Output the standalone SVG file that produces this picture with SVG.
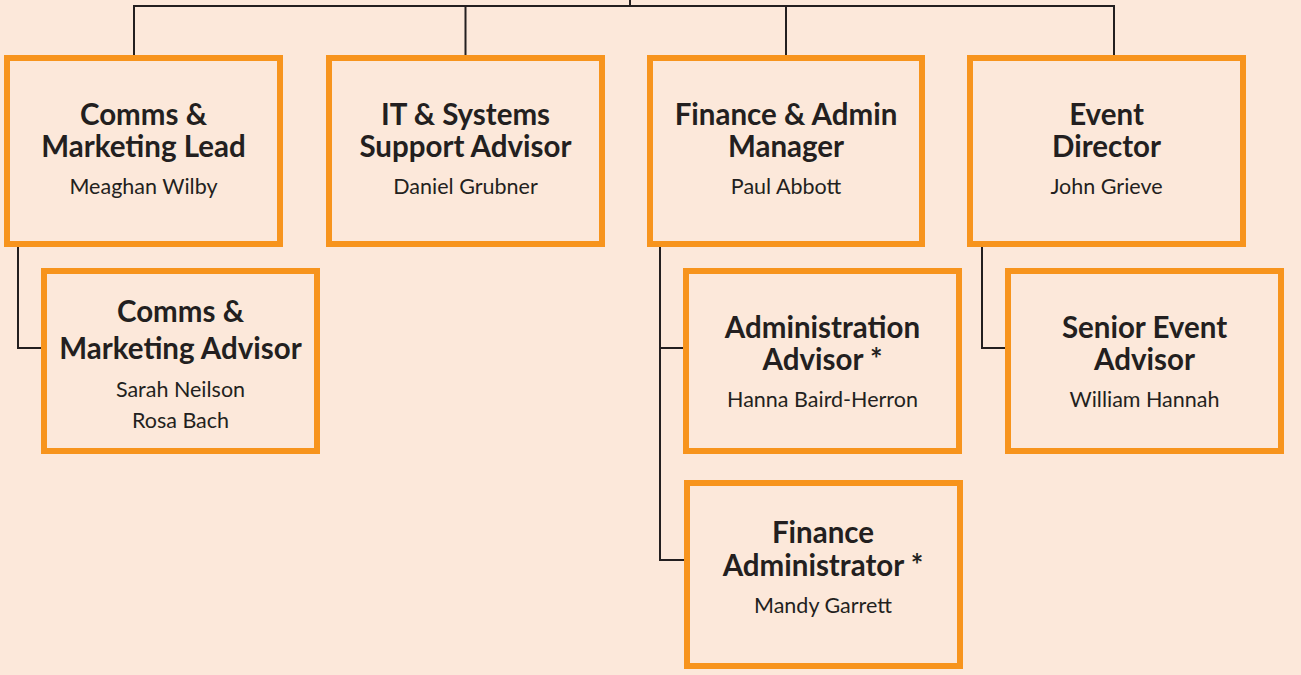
<svg xmlns="http://www.w3.org/2000/svg" width="1301" height="675" viewBox="0 0 1301 675">
<style>
.box{fill:#FCE8DA;stroke:#F7941D;stroke-width:6}
.t{font-family:Lato,"Open Sans","Liberation Sans",sans-serif;font-weight:700;font-size:29.5px;fill:#231F20;text-anchor:middle}
.n{font-family:Lato,"Open Sans","Liberation Sans",sans-serif;font-weight:400;font-size:21.5px;fill:#231F20;text-anchor:middle}
.c{fill:none;stroke:#231F20;stroke-width:2}
</style>
<rect x="0" y="0" width="1301" height="675" fill="#FCE8DA"/>
<g id="connectors">
<path class="c" d="M630,0 V6 M134,58 V6 H1114 V58 M465.5,6 V58 M786,6 V58"/>
<path class="c" d="M18,247 V348 H44"/>
<path class="c" d="M660,247 V560 H686 M660,348 H686"/>
<path class="c" d="M982,247 V348 H1008"/>
</g>
<g id="comms-lead">
<rect class="box" x="7" y="58" width="273" height="186"/>
<text class="t" x="143.5" y="125">Comms &amp;</text>
<text class="t" x="143.5" y="157">Marketing Lead</text>
<text class="n" x="143.5" y="194">Meaghan Wilby</text>
</g>
<g id="it-support">
<rect class="box" x="329" y="58" width="273" height="186"/>
<text class="t" x="465.5" y="125">IT &amp; Systems</text>
<text class="t" x="465.5" y="157">Support Advisor</text>
<text class="n" x="465.5" y="194">Daniel Grubner</text>
</g>
<g id="finance-manager">
<rect class="box" x="650" y="58" width="272" height="186"/>
<text class="t" x="786" y="125">Finance &amp; Admin</text>
<text class="t" x="786" y="157">Manager</text>
<text class="n" x="786" y="194">Paul Abbott</text>
</g>
<g id="event-director">
<rect class="box" x="970" y="58" width="273" height="186"/>
<text class="t" x="1106.5" y="125">Event</text>
<text class="t" x="1106.5" y="157">Director</text>
<text class="n" x="1106.5" y="194">John Grieve</text>
</g>
<g id="comms-advisor">
<rect class="box" x="44" y="271" width="273" height="180"/>
<text class="t" x="180.5" y="322">Comms &amp;</text>
<text class="t" x="180.5" y="359">Marketing Advisor</text>
<text class="n" x="180.5" y="397">Sarah Neilson</text>
<text class="n" x="180.5" y="428">Rosa Bach</text>
</g>
<g id="admin-advisor">
<rect class="box" x="686" y="271" width="273" height="180"/>
<text class="t" x="822.5" y="338">Administration</text>
<text class="t" x="822.5" y="370">Advisor *</text>
<text class="n" x="822.5" y="407">Hanna Baird-Herron</text>
</g>
<g id="senior-event-advisor">
<rect class="box" x="1008" y="271" width="273" height="180"/>
<text class="t" x="1144.5" y="338">Senior Event</text>
<text class="t" x="1144.5" y="370">Advisor</text>
<text class="n" x="1144.5" y="407">William Hannah</text>
</g>
<g id="finance-administrator">
<rect class="box" x="687" y="483" width="273" height="183"/>
<text class="t" x="823" y="543">Finance</text>
<text class="t" x="823" y="576">Administrator *</text>
<text class="n" x="823" y="613">Mandy Garrett</text>
</g>
</svg>
